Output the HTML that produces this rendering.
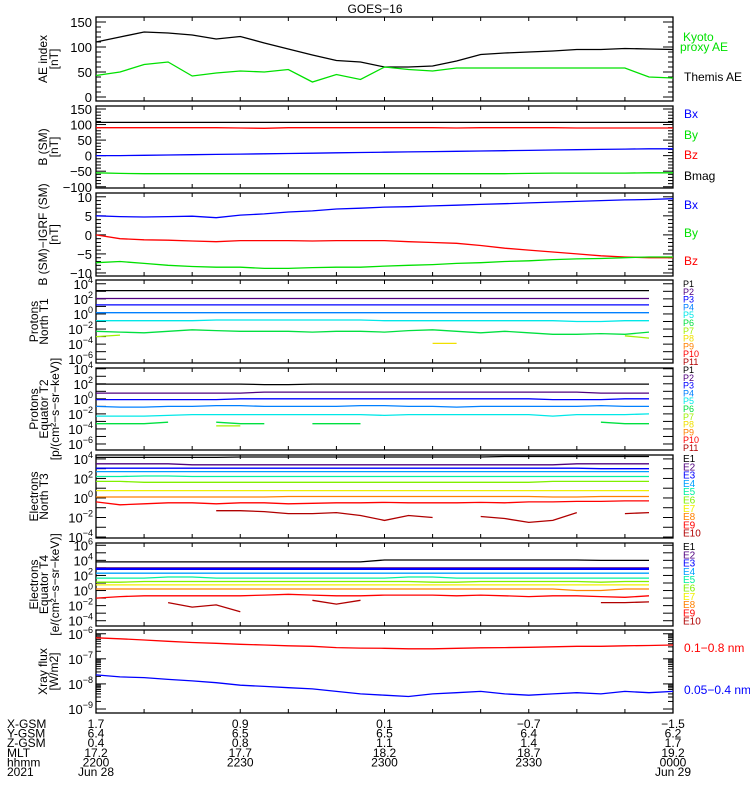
<!DOCTYPE html>
<html><head><meta charset="utf-8">
<style>
html,body{margin:0;padding:0;background:#fff;}
svg{display:block;font-family:"Liberation Sans",sans-serif;}
</style></head>
<body>
<svg id="chart" width="750" height="800" viewBox="0 0 750 800" xmlns="http://www.w3.org/2000/svg">
<text x="375" y="13" text-anchor="middle" font-size="12">GOES−16</text>
</svg>
<script>
// time grid in minutes since 2200 UT
const times = [0,5,10,15,20,25,30,35,40,45,50,55,60,65,70,75,80,85,90,95,100,105,110,115,120];
// Panel 1: AE index (nT)
const aeThemis = [110,120,130,128,124,116,121,108,96,84,73,70,60,60,62,72,85,88,90,92,95,95,97,96,95];
const aeKyoto  = [43,50,65,70,42,48,52,50,55,30,45,35,60,55,52,58,58,58,58,58,58,58,58,40,38];
// Panel 2: B (SM) nT
const bsmBmag = [107,107,107,107,107,107,107,107,107,107,107,107,107,107,107,107,107,107,107,107,107,107,107,107,107];
const bsmBz = [90,90,90,90,90,90,89,88,90,90,90,90,90,90,90,89,90,90,90,90,89,89,89,89,89];
const bsmBx = [0,0,1,2,3,4,5,6,7,8,9,10,11,12,13,14,15,16,17,18,19,20,21,22,22];
const bsmBy = [-55,-57,-58,-58,-58,-58,-58,-58,-58,-58,-58,-58,-58,-58,-58,-58,-58,-58,-57,-56,-56,-56,-56,-55,-55];
// Panel 3: B(SM)-IGRF nT
const igrfBx = [5,4.8,4.7,4.8,4.9,4.5,5.2,5.5,6,6.3,6.8,7,7.3,7.4,7.6,7.8,8,8.2,8.4,8.6,8.8,9,9.2,9.3,9.5];
const igrfBz = [0,-1,-1.3,-1.4,-1.6,-1.8,-1.5,-1.5,-1.5,-1.6,-1.5,-1.5,-1.5,-1.8,-2,-2.2,-2.8,-3.5,-4,-4.5,-5,-5.5,-5.8,-6,-6];
const igrfBy = [-7.3,-7,-7.5,-8,-8.3,-8.5,-8.5,-8.8,-8.8,-8.6,-8.5,-8.5,-8.2,-8,-7.8,-7.5,-7.3,-7,-6.8,-6.5,-6.3,-6.2,-6,-5.8,-5.8];
// Panel 4: Protons North T1 (log10 flux)
const pT1P1 = [3.1,3.1,3.1,3.1,3.1,3.1,3.1,3.1,3.1,3.1,3.1,3.1,3.1,3.1,3.1,3.1,3.1,3.1,3.1,3.1,3.1,3.1,3.1,3.1,null];
const pT1P2 = [2.05,2.05,2.05,2.05,2.05,2.05,2.05,2.05,2.05,2.05,2.05,2.05,2.05,2.05,2.05,2.05,2.05,2.05,2.05,2.05,2.05,2.05,2.05,2.05,null];
const pT1P3 = [1.2,1.2,1.2,1.2,1.2,1.2,1.2,1.2,1.2,1.2,1.2,1.2,1.2,1.2,1.2,1.2,1.2,1.2,1.2,1.2,1.2,1.2,1.2,1.2,null];
const pT1P4 = [0.17,0.17,0.17,0.17,0.17,0.17,0.17,0.17,0.17,0.17,0.17,0.17,0.17,0.17,0.17,0.17,0.17,0.17,0.17,0.17,0.17,0.17,0.17,0.17,null];
const pT1P5 = [-0.9,-0.9,-0.9,-0.9,-0.9,-0.8,-0.8,-0.8,-0.8,-0.8,-0.8,-0.8,-0.9,-0.9,-0.9,-0.9,-0.9,-0.9,-0.9,-0.9,-1.0,-1.0,-0.9,-0.9,null];
const pT1P6 = [-2.3,-2.4,-2.5,-2.3,-2.1,-2.2,-2.3,-2.3,-2.3,-2.4,-2.3,-2.3,-2.4,-2.2,-2.1,-2.3,-2.5,-2.3,-2.5,-2.7,-2.7,-2.6,-2.7,-2.4,null];
const pT1P7 = [-3.0,-2.8,null,null,null,null,null,null,null,null,null,null,null,null,null,null,null,null,null,null,null,null,-2.9,-3.2,null];
const pT1P8 = [null,null,null,null,null,null,null,null,null,null,null,null,null,null,-3.9,-3.9,null,null,null,null,null,null,null,null,null];
// Panel 5: Protons Equator T2
const pT2P1 = [1.96,1.96,1.96,1.96,1.96,1.96,1.96,1.9,1.9,1.96,1.96,1.96,1.96,1.96,1.96,1.96,1.96,1.96,1.96,1.96,1.96,1.96,1.96,1.96,null];
const pT2P2 = [0.76,0.76,0.76,0.76,0.76,0.76,0.76,0.9,0.9,0.9,0.9,0.9,0.9,0.9,0.9,0.9,0.9,0.9,0.9,0.9,0.9,0.76,0.76,0.76,null];
const pT2P3 = [-0.1,-0.1,-0.1,-0.1,-0.1,-0.1,0,0,0,0,0,0,0,0,0,0,0,0,0,-0.1,-0.1,-0.1,0,0,null];
const pT2P4 = [-1.0,-1.1,-1.1,-1.0,-1.0,-0.9,-0.9,-1.0,-1.0,-1.0,-1.0,-0.9,-0.9,-1.0,-1.0,-1.1,-1.0,-1.0,-1.0,-1.0,-1.0,-0.9,-1.0,-1.0,null];
const pT2P5 = [-2.3,-2.3,-2.3,-2.2,-2.1,-2.1,-2.1,-2.1,-2.1,-2.1,-2.1,-2.1,-2.2,-2.1,-2.1,-2.1,-2.1,-2.1,-2.1,-2.3,-2.1,-2.1,-2.1,-2.0,null];
const pT2P6 = [-3.3,-3.3,-3.3,-3.1,null,-3.1,-3.3,-3.3,null,-3.3,-3.3,-3.3,null,null,null,null,null,null,null,null,null,-3.1,-3.3,-3.3,null];
const pT2P7 = [null,null,null,null,null,-3.6,-3.6,null,null,null,null,null,null,null,null,null,null,null,null,null,null,null,null,null,null];
// Panel 6: Electrons North T3
const eT3E1 = [4.15,4.15,4.15,4.15,4.15,4.15,4.2,4.2,4.2,4.2,4.2,4.2,4.2,4.2,4.2,4.2,4.2,4.25,4.25,4.25,4.25,4.25,4.25,4.25,null];
const eT3E2 = [3.5,3.5,3.5,3.5,3.4,3.4,3.4,3.4,3.4,3.4,3.4,3.4,3.4,3.4,3.4,3.4,3.4,3.4,3.4,3.4,3.5,3.5,3.5,3.5,null];
const eT3E3 = [3.05,3.05,3.05,3.05,3.05,3.05,3.05,3.05,3.05,3.05,3.05,3.05,3.05,3.05,3.05,3.05,3.05,3.05,3.05,3.05,3.05,3.0,3.0,3.0,null];
const eT3E4 = [2.7,2.7,2.7,2.7,2.7,2.7,2.7,2.7,2.7,2.7,2.7,2.7,2.7,2.7,2.7,2.7,2.7,2.7,2.7,2.7,2.7,2.7,2.7,2.7,null];
const eT3E5 = [2.2,2.2,2.25,2.25,2.2,2.2,2.2,2.2,2.2,2.2,2.2,2.2,2.2,2.2,2.2,2.2,2.2,2.2,2.2,2.2,2.2,2.2,2.2,2.2,null];
const eT3E6 = [1.7,1.7,1.6,1.6,1.6,1.6,1.6,1.6,1.6,1.6,1.6,1.6,1.6,1.6,1.6,1.6,1.6,1.6,1.6,1.7,1.7,1.7,1.7,1.7,null];
const eT3E7 = [0.75,0.75,0.75,0.75,0.75,0.75,0.75,0.75,0.75,0.75,0.75,0.75,0.75,0.75,0.75,0.75,0.75,0.75,0.75,0.75,0.75,0.75,0.75,0.75,null];
const eT3E8 = [0.1,0.1,0.1,0.1,0.1,0.1,0.1,0.1,0.15,0.15,0.15,0.15,0.15,0.15,0.15,0.15,0.15,0.15,0.15,0.1,0.1,0.15,0.15,0.15,null];
const eT3E9 = [-0.4,-0.7,-0.6,-0.5,-0.5,-0.6,-0.5,-0.5,-0.6,-0.55,-0.5,-0.5,-0.45,-0.5,-0.5,-0.5,-0.45,-0.5,-0.4,-0.4,-0.35,-0.35,-0.3,-0.3,null];
const eT3E10 = [null,null,null,null,null,-1.3,-1.3,-1.4,-1.6,-1.6,-1.5,-1.8,-2.3,-1.8,-2.0,null,-1.9,-2.1,-2.5,-2.3,-1.5,null,-1.6,-1.5,null];
// Panel 7: Electrons Equator T4
const eT4E1 = [3.8,3.8,3.8,3.8,3.8,3.8,3.8,3.8,3.8,3.8,3.8,3.8,4.05,4.05,4.05,4.05,4.05,4.05,4.05,4.05,4.05,4.0,4.0,4.0,null];
const eT4E2 = [2.95,2.95,2.95,2.95,2.95,2.95,2.95,2.95,2.95,2.95,2.95,2.95,2.95,2.95,2.95,2.95,2.95,2.95,2.95,2.95,2.95,2.95,2.95,2.95,null];
const eT4E3 = [2.85,2.85,2.85,2.85,2.85,2.85,2.85,2.85,2.85,2.85,2.85,2.85,2.85,2.85,2.85,2.85,2.85,2.85,2.85,2.85,2.85,2.85,2.85,2.85,null];
const eT4E4 = [2.3,2.3,2.3,2.3,2.3,2.3,2.3,2.3,2.3,2.3,2.3,2.3,2.3,2.3,2.3,2.3,2.3,2.3,2.3,2.3,2.3,2.3,2.3,2.3,null];
const eT4E5 = [1.65,1.65,1.65,1.8,1.8,1.65,1.65,1.65,1.65,1.65,1.65,1.65,1.65,1.8,1.8,1.65,1.65,1.65,1.65,1.65,1.65,1.65,1.65,1.65,null];
const eT4E6 = [1.1,1.1,1.2,1.2,1.2,1.2,1.2,1.2,1.2,1.2,1.2,1.2,1.2,1.2,1.1,1.1,1.2,1.2,1.2,1.2,1.2,1.1,1.2,1.2,null];
const eT4E7 = [0.75,0.75,0.75,0.75,0.75,0.75,0.75,0.75,0.75,0.75,0.75,0.75,0.75,0.75,0.75,0.75,0.75,0.75,0.75,0.75,0.75,0.75,0.75,0.75,null];
const eT4E8 = [0.2,0.2,0.2,0.2,0.2,0.2,0.2,0.2,0.2,0.2,0.2,0.2,0.2,0.2,0.2,0.2,0.2,0.2,0.2,0.2,0.0,0.0,0.2,0.2,null];
const eT4E9 = [-1.0,-0.8,-0.7,-0.7,-0.7,-0.7,-0.7,-0.6,-0.5,-0.6,-0.7,-0.7,-0.6,-0.6,-0.6,-0.7,-0.6,-0.7,-0.8,-0.7,-0.7,-0.8,-0.9,-0.7,null];
const eT4E10 = [null,null,null,-1.6,-2.2,-1.9,-2.8,null,null,-1.3,-1.8,-1.3,null,null,null,null,null,null,null,null,null,-1.6,-1.6,-1.5,null];
// Panel 8: X-ray flux (log10 W/m2)
const xrayLong  = [-6.16,-6.2,-6.25,-6.3,-6.35,-6.38,-6.42,-6.45,-6.48,-6.5,-6.55,-6.57,-6.58,-6.6,-6.6,-6.58,-6.56,-6.55,-6.54,-6.52,-6.5,-6.5,-6.48,-6.47,-6.45];
const xrayShort = [-7.64,-7.72,-7.75,-7.82,-7.88,-7.95,-8.05,-8.1,-8.15,-8.2,-8.3,-8.4,-8.45,-8.5,-8.4,-8.35,-8.3,-8.4,-8.45,-8.4,-8.35,-8.4,-8.3,-8.35,-8.3];
// axis tick labels
const xTickLabelsX = ["1.7","0.9","0.1","−0.7","−1.5"];
const xTickLabelsY = ["6.4","6.5","6.5","6.4","6.2"];
const xTickLabelsZ = ["0.4","0.8","1.1","1.4","1.7"];
const xTickLabelsMLT = ["17.2","17.7","18.2","18.7","19.2"];
const xTickLabelsHHMM = ["2200","2230","2300","2330","0000"];
const xTickMinutes = [0,30,60,90,120];

const NS="http://www.w3.org/2000/svg";
const svg=document.getElementById('chart');
const X0=96,X1=673,TMAX=120;
function xs(m){return X0+(m/TMAX)*(X1-X0);}
function mk(tag,attrs,parent){const e=document.createElementNS(NS,tag);for(const k in attrs)e.setAttribute(k,attrs[k]);(parent||svg).appendChild(e);return e;}

const panels=[
 {name:'ae-panel',top:17,bot:101,ymin:-8,ymax:160,log:false,major:50,minor:10,labels:[0,50,100,150],title:['AE index','[nT]'],tx:[47,58]},
 {name:'bsm-panel',top:106,bot:188,ymin:-104,ymax:159.6,log:false,major:50,minor:10,labels:[-100,-50,0,50,100,150],title:['B (SM)','[nT]'],tx:[47,58]},
 {name:'igrf-panel',top:193,bot:276,ymin:-10.8,ymax:11,log:false,major:5,minor:1,labels:[-10,-5,0,5,10],title:['B (SM)−IGRF (SM)','[nT]'],tx:[47,58]},
 {name:'protons-t1-panel',top:280,bot:363,ymin:-6.5,ymax:4.5,log:true,decades:[-6,-5,-4,-3,-2,-1,0,1,2,3,4],labels:[-6,-4,-2,0,2,4],title:['Protons','North T1'],tx:[38,48]},
 {name:'protons-t2-panel',top:368,bot:450,ymin:-6.8,ymax:4.1,log:true,decades:[-6,-5,-4,-3,-2,-1,0,1,2,3,4],labels:[-6,-4,-2,0,2,4],title:['Protons','Equator T2','[p/(cm²−s−sr−keV)]'],tx:[38,48,59]},
 {name:'electrons-t3-panel',top:455,bot:538,ymin:-4.1,ymax:4.4,log:true,decades:[-4,-3,-2,-1,0,1,2,3,4],labels:[-4,-2,0,2,4],title:['Electrons','North T3'],tx:[38,48]},
 {name:'electrons-t4-panel',top:543,bot:626,ymin:-4.7,ymax:6.3,log:true,decades:[-4,-3,-2,-1,0,1,2,3,4,5,6],labels:[-4,-2,0,2,4,6],title:['Electrons','Equator T4','[e/(cm²−s−sr−keV)]'],tx:[38,48,59]},
 {name:'xray-panel',top:630,bot:713,ymin:-9.16,ymax:-5.85,log:true,xray:true,decades:[-9,-8,-7,-6],labels:[-9,-8,-7,-6],title:['Xray flux','[W/m2]'],tx:[47,58]}
];
function ys(p,v){return p.bot-(v-p.ymin)/(p.ymax-p.ymin)*(p.bot-p.top);}

function fmt(v){return v<0?'−'+(-v):''+v;}

panels.forEach(p=>{
 const g=mk('g',{});
 
 
 const fr=mk('rect',{x:X0,y:p.top,width:X1-X0,height:p.bot-p.top,fill:'none',stroke:'#000','stroke-width':1.3},g);
 
 
 for(let m=10;m<TMAX;m+=10){
  const x=xs(m);
  mk('line',{x1:x,x2:x,y1:p.bot,y2:p.bot-4,stroke:'#000'},g);
  mk('line',{x1:x,x2:x,y1:p.top,y2:p.top+4,stroke:'#000'},g);
 }
 const yt=[];
 if(!p.log){
  for(let v=Math.ceil(p.ymin/p.minor)*p.minor;v<=p.ymax;v+=p.minor){
   const maj=Math.abs(v%p.major)<1e-9;yt.push([ys(p,v),maj?10:5]);
  }
 } else {
  p.decades.forEach(d=>{yt.push([ys(p,d),10]);
   if(p.xray){for(let k=2;k<10;k++){const v=d+Math.log10(k);if(v<p.ymax)yt.push([ys(p,v),5]);}}
  });
 }
 yt.forEach(([y,l])=>{
  mk('line',{x1:X0,x2:X0+l,y1:y,y2:y,stroke:'#000'},g);
  mk('line',{x1:X1,x2:X1-l,y1:y,y2:y,stroke:'#000'},g);
 });
 p.labels.forEach(v=>{
  const y=ys(p,v);
  const t=mk('text',{x:X0-4,y:y+5,'text-anchor':'end','font-size':13},g);
  
  
  if(!p.log){t.textContent=fmt(v);}
  else{
   const b=mk('tspan',{},t);b.textContent='10';
   const s=mk('tspan',{dy:-6,'font-size':9},t);s.textContent=fmt(v);
   t.setAttribute('x',X0-3);
  }
 });
 const cy=(p.top+p.bot)/2;
 p.title.forEach((line,i)=>{
  const t=mk('text',{x:p.tx[i],y:cy,'text-anchor':'middle','font-size':12,transform:`rotate(-90 ${p.tx[i]} ${cy})`},g);
  
  
  t.textContent=line;
 });
});

function series(pi,vals,color,name,w){
 const p=panels[pi];let segs=[],cur=[];
 vals.forEach((v,i)=>{if(v===null||v===undefined){if(cur.length)segs.push(cur);cur=[];}else cur.push(xs(times[i]).toFixed(1)+','+ys(p,v).toFixed(1));});
 if(cur.length)segs.push(cur);
 const g=mk('g',{});
 
 
 segs.forEach(s=>{ if(s.length===1){s.push(s[0]);} mk('polyline',{points:s.join(' '),fill:'none',stroke:color,'stroke-width':w||1.3},g);});
}
series(0,aeThemis,'#000','themis-ae-line');
series(0,aeKyoto,'#00e000','kyoto-ae-line');
series(1,bsmBmag,'#000','bsm-bmag-line');
series(1,bsmBz,'#ff0000','bsm-bz-line');
series(1,bsmBx,'#0000ff','bsm-bx-line');
series(1,bsmBy,'#00e000','bsm-by-line');
series(2,igrfBx,'#0000ff','igrf-bx-line');
series(2,igrfBz,'#ff0000','igrf-bz-line');
series(2,igrfBy,'#00e000','igrf-by-line');
const pc=['#000','#50007f','#0000ff','#0080ff','#00e8e8','#00e040','#a0f000','#f0e000','#ff8000','#ff0000','#b00000'];
[pT1P1,pT1P2,pT1P3,pT1P4,pT1P5,pT1P6,pT1P7,pT1P8].forEach((a,i)=>series(3,a,pc[i],'protons-t1-p'+(i+1)));
[pT2P1,pT2P2,pT2P3,pT2P4,pT2P5,pT2P6,pT2P7].forEach((a,i)=>series(4,a,pc[i],'protons-t2-p'+(i+1)));
const ec=['#000','#50007f','#0000ff','#00a0ff','#00f0a0','#80f000','#f0f000','#ff8000','#ff0000','#b00000'];
[eT3E1,eT3E2,eT3E3,eT3E4,eT3E5,eT3E6,eT3E7,eT3E8,eT3E9,eT3E10].forEach((a,i)=>series(5,a,ec[i],'electrons-t3-e'+(i+1)));
[eT4E1,eT4E2,eT4E3,eT4E4,eT4E5,eT4E6,eT4E7,eT4E8,eT4E9,eT4E10].forEach((a,i)=>series(6,a,ec[i],'electrons-t4-e'+(i+1),i===1||i===2?2:1.3));
series(7,xrayLong,'#ff0000','xray-long-line');
series(7,xrayShort,'#0000ff','xray-short-line');

function lab(x,y,txt,color,size,name){
 const t=mk('text',{x:x,y:y,fill:color,'font-size':size});
 
 
 t.textContent=txt;return t;
}
lab(683,41,'Kyoto','#00e000',12,'legend-kyoto');
lab(680,51,'proxy AE','#00e000',12,'legend-kyoto');
lab(684,81,'Themis AE','#000',12,'legend-themis');
lab(684,118,'Bx','#0000ff',12,'legend-bx');
lab(684,139,'By','#00e000',12,'legend-by');
lab(684,159,'Bz','#ff0000',12,'legend-bz');
lab(684,180,'Bmag','#000',12,'legend-bmag');
lab(684,209,'Bx','#0000ff',12,'legend-bx');
lab(684,237,'By','#00e000',12,'legend-by');
lab(684,265,'Bz','#ff0000',12,'legend-bz');
for(let i=0;i<11;i++){lab(683,287+i*7.8,'P'+(i+1),pc[i],9,'legend-p'+(i+1));}
for(let i=0;i<11;i++){lab(683,373+i*7.8,'P'+(i+1),pc[i],9,'legend-p'+(i+1));}
for(let i=0;i<10;i++){lab(683,462+i*8.3,'E'+(i+1),ec[i],10,'legend-e'+(i+1));}
for(let i=0;i<10;i++){lab(683,550+i*8.3,'E'+(i+1),ec[i],10,'legend-e'+(i+1));}
lab(684,652,'0.1−0.8 nm','#ff0000',12,'legend-xray-long');
lab(684,694,'0.05−0.4 nm','#0000ff',12,'legend-xray-short');

const rows=[['X-GSM',xTickLabelsX],['Y-GSM',xTickLabelsY],['Z-GSM',xTickLabelsZ],['MLT',xTickLabelsMLT],['hhmm',xTickLabelsHHMM]];
rows.forEach((r,ri)=>{
 const y=728+ri*9.6;
 lab(7,y,r[0],'#000',12,'x-axis-row-label');
 r[1].forEach((v,i)=>{const t=lab(xs(xTickMinutes[i]),y,v,'#000',12,'x-tick-label');t.setAttribute('text-anchor','middle');});
});
lab(7,776,'2021','#000',12,'year-label');
const d1=lab(xs(0),776,'Jun 28','#000',12,'date-label');d1.setAttribute('text-anchor','middle');
const d2=lab(xs(120),776,'Jun 29','#000',12,'date-label');d2.setAttribute('text-anchor','middle');
</script>
</body></html>
